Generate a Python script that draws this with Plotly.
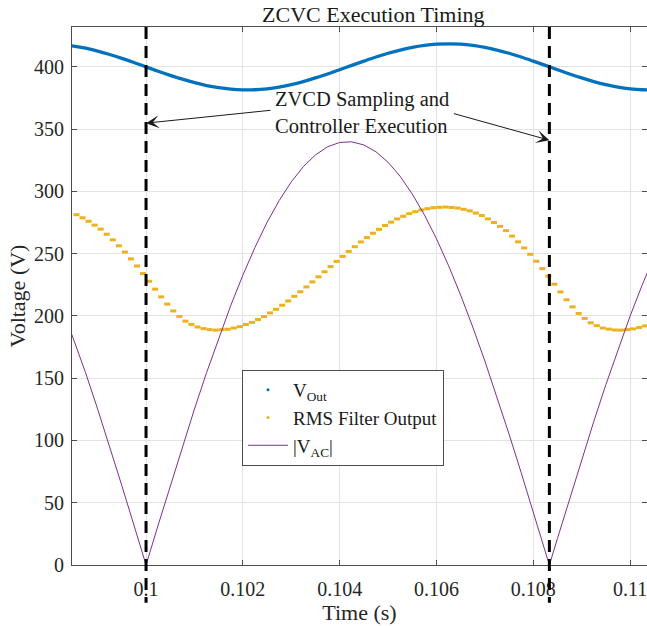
import plotly.graph_objects as go

# ---------------- data ----------------
# common sample grid for V_out (s)
VOUT_T0 = 0.09825
VOUT_DT = 0.00025
VOUT_V = [417.9, 416.7, 415.0, 412.7, 409.9, 406.8, 403.5, 400.0, 396.5, 393.2,
          390.1, 387.3, 385.0, 383.3, 382.1, 381.5, 381.6, 382.4, 383.8, 385.7,
          388.2, 391.1, 394.3, 397.7, 401.2, 404.6, 407.9, 410.9, 413.5, 415.6,
          417.2, 418.2, 418.5, 418.2, 417.2, 415.6, 413.5, 410.9, 407.9, 404.6,
          401.2, 397.7, 394.3, 391.1, 388.2, 385.7, 383.8, 382.4, 381.6, 381.5]

# |V_AC| samples
VAC_T = [0.09825, 0.0985, 0.09875, 0.099, 0.09925, 0.0995, 0.09975, 0.1, 0.10025, 0.1005,
         0.10075, 0.101, 0.10125, 0.1015, 0.10175, 0.102, 0.10225, 0.1025, 0.10275, 0.103,
         0.10325, 0.1035, 0.10375, 0.104, 0.10425, 0.1045, 0.10475, 0.105, 0.10525, 0.1055,
         0.10575, 0.106, 0.10625, 0.1065, 0.10675, 0.107, 0.10725, 0.1075, 0.10775, 0.108,
         0.10825, 0.108333, 0.1085, 0.10875, 0.109, 0.10925, 0.1095, 0.10975, 0.11, 0.11025,
         0.1105]
VAC_V = [208.4, 182.2, 154.4, 125.2, 94.9, 63.7, 32.0, 0.0, 32.0, 63.7,
         94.9, 125.2, 154.4, 182.2, 208.4, 232.7, 255.0, 275.1, 292.6, 307.6,
         319.9, 329.3, 335.8, 339.3, 339.8, 337.3, 331.8, 323.4, 312.1, 297.9,
         281.2, 262.0, 240.4, 216.7, 191.1, 163.8, 135.0, 105.1, 74.2, 42.6,
         10.7, 0.0, 21.3, 53.2, 84.6, 115.2, 144.8, 173.1, 199.8, 224.8,
         247.9]

# RMS filter output (sample-and-hold steps)
RMS_T0 = 0.0985
RMS_DT = 0.000125
RMS_V = [281.3, 278.8, 276.0, 272.9, 269.7, 265.6, 261.1, 256.3, 251.3, 245.8,
         240.1, 234.0, 227.8, 221.5, 215.3, 209.5, 204.0, 199.6, 195.8, 193.2,
         191.1, 189.8, 189.0, 188.6, 189.0, 189.3, 190.3, 191.4, 193.1, 194.8,
         197.1, 199.5, 202.4, 205.3, 208.6, 212.0, 215.7, 219.4, 223.3, 227.3,
         231.4, 235.5, 239.6, 243.8, 247.8, 251.8, 255.6, 259.4, 262.9, 266.4,
         269.5, 272.6, 275.3, 277.9, 280.0, 282.1, 283.7, 285.1, 286.1, 286.9,
         287.2, 287.4, 287.1, 286.6, 285.6, 284.4, 282.6, 280.6, 277.9, 275.0,
         271.9, 268.5, 264.1, 259.5, 254.6, 249.5, 243.9, 238.0, 231.9, 225.5,
         219.3, 213.0, 207.3, 202.0, 198.0, 194.5, 192.2, 190.3, 189.4, 188.7,
         188.6, 189.0, 189.6, 190.7, 192.0, 193.7]

# execution instants (s)
EXEC_T = [0.1, 0.108333]

X_TICKS = [0.1, 0.102, 0.104, 0.106, 0.108, 0.11]
X_TICK_TEXT = ["0.1", "0.102", "0.104", "0.106", "0.108", "0.11"]

# ---------------- styles ----------------
FONT = "Liberation Serif"
BLUE = "#0072BD"
ORANGE = "#EDB120"
PURPLE = "#7E2F8E"
AXC = "#4d4d4d"

vout_t = [VOUT_T0 + VOUT_DT * i for i in range(len(VOUT_V))]
rms_t = [RMS_T0 + RMS_DT * (i + 0.5) for i in range(len(RMS_V))]

fig = go.Figure()

fig.add_trace(go.Scatter(x=vout_t, y=VOUT_V, mode="lines",
                         line=dict(color=BLUE, width=3.3, shape="spline"),
                         showlegend=False, hoverinfo="skip"))
fig.add_trace(go.Scatter(x=rms_t, y=RMS_V, mode="markers",
                         marker=dict(symbol="line-ew", size=4.3,
                                     line=dict(color=ORANGE, width=3)),
                         showlegend=False, hoverinfo="skip"))
fig.add_trace(go.Scatter(x=VAC_T, y=VAC_V, mode="lines",
                         line=dict(color=PURPLE, width=1),
                         showlegend=False, hoverinfo="skip"))

# legend entries
fig.add_trace(go.Scatter(x=[None], y=[None], mode="markers",
                         marker=dict(color=BLUE, size=3), name="V<sub>Out</sub>"))
fig.add_trace(go.Scatter(x=[None], y=[None], mode="markers",
                         marker=dict(color=ORANGE, size=3), name="RMS Filter Output"))
fig.add_trace(go.Scatter(x=[None], y=[None], mode="lines",
                         line=dict(color=PURPLE, width=1), name="|V<sub>AC</sub>|"))

for t in EXEC_T:
    fig.add_shape(type="line", xref="x", yref="paper", x0=t, x1=t, y0=1, y1=-0.07,
                  line=dict(color="black", width=3, dash="12px,7px"), layer="above")

fig.add_annotation(x=0.102627, y=363.6, xref="x", yref="y",
                   text="ZVCD Sampling and<br>Controller Execution",
                   showarrow=False, xanchor="left", yanchor="middle", align="left",
                   font=dict(family=FONT, size=20.5, color="#1a1a1a"))
fig.add_annotation(x=EXEC_T[0], y=354.8, xref="x", yref="y", ax=126, ay=-13,
                   text="", showarrow=True, arrowhead=3, arrowsize=2.2, arrowwidth=1,
                   arrowcolor="#1a1a1a")
fig.add_annotation(x=EXEC_T[1], y=341.1, xref="x", yref="y", ax=-97, ay=-27,
                   text="", showarrow=True, arrowhead=3, arrowsize=2.2, arrowwidth=1,
                   arrowcolor="#1a1a1a")

axis_common = dict(showline=True, linecolor=AXC, linewidth=1, mirror="ticks",
                   ticks="inside", ticklen=5, tickcolor=AXC, tickwidth=1,
                   showgrid=True, gridcolor="#e3e3e3", gridwidth=1, zeroline=False,
                   ticklabeloverflow="allow",
                   tickfont=dict(family=FONT, size=20, color="#262626"))

fig.update_layout(
    width=647, height=626,
    margin=dict(l=72, r=0, t=27, b=61),
    paper_bgcolor="white", plot_bgcolor="white",
    font=dict(family=FONT, color="#262626"),
    title=dict(text="ZCVC Execution Timing", x=0.524, xref="paper", xanchor="center",
               y=1 - 14.5 / 626, yref="container", yanchor="middle",
               font=dict(family=FONT, size=22, color="#1a1a1a")),
    xaxis=dict(range=[0.09847, 0.11035], tickvals=X_TICKS, ticktext=X_TICK_TEXT,
               ticklabelstandoff=6,
               title=dict(text="Time (s)", font=dict(family=FONT, size=22), standoff=4),
               **axis_common),
    yaxis=dict(range=[0, 432], tick0=0, dtick=50, ticklabelstandoff=3,
               title=dict(text="Voltage (V)", font=dict(family=FONT, size=22), standoff=2),
               **axis_common),
    legend=dict(x=(242 - 72) / 575, y=(565 - 370) / 538, xanchor="left", yanchor="top",
                bgcolor="white", bordercolor=AXC, borderwidth=1, itemwidth=40,
                font=dict(family=FONT, size=19, color="#1a1a1a")),
)

fig.write_html("out.html")
